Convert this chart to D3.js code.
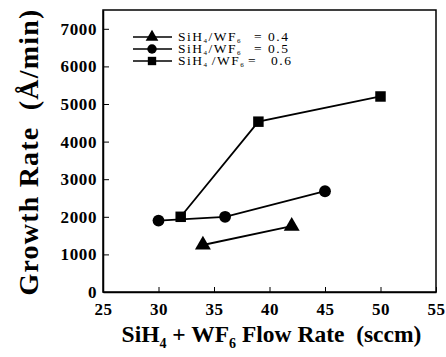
<!DOCTYPE html>
<html>
<head>
<script src="https://d3js.org/d3.v7.min.js"></script>
<style>
body { margin: 0; background: #fff; }
text { font-family: "Liberation Serif", "Times New Roman", serif; fill: #000; white-space: pre; }
.tick text { font-size: 17px; font-weight: bold; letter-spacing: 0.6px; }
text.leg { font-size: 13.5px; letter-spacing: 1.5px; }
</style>
</head>
<body>
<div id="plot"></div>
<script>
var width = 446, height = 357;
var margin = { left: 103, top: 10, right: 10, bottom: 65 };

var xTicks = [25, 30, 35, 40, 45, 50, 55];
var yTicks = [0, 1000, 2000, 3000, 4000, 5000, 6000, 7000];

var ratios = ["0.4", "0.5", "0.6"];
var symbols = ["triangle", "circle", "square"];
var flow04 = [34, 42];
var rate04 = [1250, 1750];
var flow05 = [30, 36, 45];
var rate05 = [1900, 2000, 2680];
var flow06 = [32, 39, 50];
var rate06 = [2000, 4530, 5200];

var series = [
  { flow: flow04, rate: rate04 },
  { flow: flow05, rate: rate05 },
  { flow: flow06, rate: rate06 }
];

var svg = d3.select("#plot").append("svg")
  .attr("width", width).attr("height", height);

var xScale = d3.scaleLinear().domain([25, 55])
  .range([margin.left, width - margin.right]);
var yScale = d3.scaleLinear().domain([0, 7500])
  .range([height - margin.bottom, margin.top]);

// frame
svg.append("rect")
  .attr("x", xScale(25)).attr("y", yScale(7500))
  .attr("width", xScale(55) - xScale(25))
  .attr("height", yScale(0) - yScale(7500))
  .style("fill", "none").style("stroke", "#000").style("stroke-width", 1.5);

var xAxis = d3.axisBottom(xScale).tickValues(xTicks).tickFormat(d3.format("d"))
  .tickSizeInner(-5).tickSizeOuter(0).tickPadding(11);
svg.append("g")
  .attr("transform", "translate(0," + yScale(0) + ")")
  .call(xAxis)
  .attr("font-family", null).attr("font-size", null)
  .call(function (g) { g.select(".domain").style("stroke-width", 1.5); });

var yAxis = d3.axisLeft(yScale).tickValues(yTicks).tickFormat(d3.format("d"))
  .tickSizeInner(-6).tickSizeOuter(0).tickPadding(6);
svg.append("g")
  .attr("transform", "translate(" + xScale(25) + ",0)")
  .call(yAxis)
  .attr("font-family", null).attr("font-size", null)
  .call(function (g) { g.select(".domain").style("stroke-width", 1.5); });

var line = d3.line()
  .x(function (d) { return xScale(d[0]); })
  .y(function (d) { return yScale(d[1]); });

function symbolPath(name, size) {
  var t = name === "triangle" ? d3.symbolTriangle :
          name === "circle" ? d3.symbolCircle : d3.symbolSquare;
  return d3.symbol().type(t).size(size)();
}

series.forEach(function (s, i) {
  var pts = s.flow.map(function (f, j) { return [f, s.rate[j]]; });
  svg.append("path").datum(pts)
    .attr("d", line)
    .style("fill", "none").style("stroke", "#000").style("stroke-width", 1.8);
  svg.selectAll(".m" + i).data(pts).enter().append("path")
    .attr("class", "m" + i)
    .attr("transform", function (d) { return "translate(" + xScale(d[0]) + "," + yScale(d[1]) + ")"; })
    .attr("d", symbolPath(symbols[i], 110))
    .style("fill", "#000");
});

// legend
var legend = svg.append("g");
ratios.forEach(function (r, i) {
  var y = 37 + i * 12;
  legend.append("line")
    .attr("x1", 133).attr("x2", 172).attr("y1", y).attr("y2", y)
    .style("stroke", "#000").style("stroke-width", 1.5);
  legend.append("path")
    .attr("transform", "translate(152," + y + ")")
    .attr("d", symbolPath(symbols[i], 70))
    .style("fill", "#000");
  var t = legend.append("text").attr("class", "leg")
    .attr("x", 178).attr("y", y + 4);
  t.append("tspan").text("SiH");
  t.append("tspan").attr("dy", 2).style("font-size", "7px").text(i === 2 ? "4 " : "4");
  t.append("tspan").attr("dy", -2).text("/WF");
  t.append("tspan").attr("dy", 2).style("font-size", "7px").text("6");
  t.append("tspan").attr("dy", -2).attr("x", i === 2 ? 248 : 254).text("=");
  t.append("tspan").attr("x", i === 2 ? 271 : 268).text(r);
});

// axis titles
var xl = svg.append("text")
  .attr("x", (xScale(25) + xScale(55)) / 2 + 2).attr("y", 342)
  .attr("text-anchor", "middle")
  .style("font-size", "23.5px").style("font-weight", "bold");
xl.append("tspan").text("SiH");
xl.append("tspan").attr("dy", 6).style("font-size", "14px").text("4");
xl.append("tspan").attr("dy", -6).text(" + WF");
xl.append("tspan").attr("dy", 6).style("font-size", "14px").text("6");
xl.append("tspan").attr("dy", -6).text(" Flow Rate  (sccm)");

svg.append("text")
  .attr("transform", "translate(38,152) rotate(-90)")
  .attr("text-anchor", "middle")
  .style("font-size", "28px").style("font-weight", "bold").style("letter-spacing", "1.2px")
  .text("Growth Rate  (Å/min)");
</script>
</body>
</html>
